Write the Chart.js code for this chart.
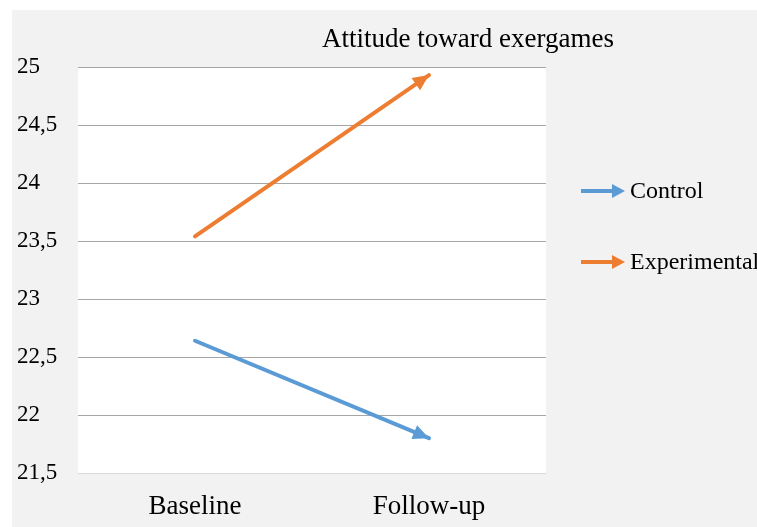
<!DOCTYPE html>
<html>
<head>
<meta charset="utf-8">
<script src="https://cdn.jsdelivr.net/npm/chart.js@4/dist/chart.umd.min.js"></script>
<style>
  html, body { margin: 0; padding: 0; background: #fff; }
  #wrap { width: 757px; height: 527px; }
</style>
</head>
<body>
<div id="wrap"><canvas id="myChart" width="757" height="527"></canvas></div>
<script>
const categories = ['Baseline', 'Follow-up'];
const seriesNames = ['Control', 'Experimental'];
const controlValues = [22.64, 21.80];
const experimentalValues = [23.54, 24.93];
const yMin = 21.5, yMax = 25, yStep = 0.5;
const titleText = 'Attitude toward exergames';

const BLUE = '#5b9bd5', ORANGE = '#ed7d31';
const FONT = "'Liberation Serif', 'Times New Roman', serif";

function arrowHead(ctx, x1, y1, x2, y2, color, len, half) {
  const a = Math.atan2(y2 - y1, x2 - x1);
  ctx.save();
  ctx.fillStyle = color;
  ctx.beginPath();
  ctx.moveTo(x2, y2);
  ctx.lineTo(x2 - len * Math.cos(a) + half * Math.sin(a), y2 - len * Math.sin(a) - half * Math.cos(a));
  ctx.lineTo(x2 - len * Math.cos(a) - half * Math.sin(a), y2 - len * Math.sin(a) + half * Math.cos(a));
  ctx.closePath();
  ctx.fill();
  ctx.restore();
}

const bgPlugin = {
  id: 'bg',
  beforeDraw(chart) {
    const c = chart.ctx, a = chart.chartArea;
    c.save();
    c.fillStyle = '#ffffff';
    c.fillRect(0, 0, chart.width, chart.height);
    c.fillStyle = '#f2f2f2';
    c.fillRect(12, 10, chart.width - 12, chart.height - 10);
    c.fillStyle = '#ffffff';
    c.fillRect(a.left, a.top, a.right - a.left, a.bottom - a.top);
    c.restore();
  }
};

const arrowPlugin = {
  id: 'arrows',
  afterDatasetsDraw(chart) {
    const c = chart.ctx;
    chart.data.datasets.forEach((ds, i) => {
      const pts = chart.getDatasetMeta(i).data;
      const p = pts[pts.length - 2], q = pts[pts.length - 1];
      arrowHead(c, p.x, p.y, q.x, q.y, ds.borderColor, 16, 7.5);
    });
  }
};

// title and legend drawn by hand to match the placement
const textPlugin = {
  id: 'texts',
  afterDraw(chart) {
    const c = chart.ctx;
    c.save();
    c.fillStyle = '#000';
    c.font = '27px ' + FONT;
    c.textAlign = 'center';
    c.textBaseline = 'middle';
    c.fillText(titleText, 468, 40);
    c.font = '24px ' + FONT;
    c.textAlign = 'left';
    const ys = [191, 262];
    chart.data.datasets.forEach((ds, i) => {
      const y = ys[i];
      c.strokeStyle = ds.borderColor;
      c.lineWidth = 4;
      c.beginPath();
      c.moveTo(581, y);
      c.lineTo(613, y);
      c.stroke();
      arrowHead(c, 581, y, 625, y, ds.borderColor, 13, 7);
      c.fillStyle = '#000';
      c.fillText(ds.label, 630, y + 1);
    });
    c.restore();
  }
};

new Chart(document.getElementById('myChart'), {
  type: 'line',
  data: {
    labels: categories,
    datasets: [
      { label: seriesNames[0], data: controlValues, borderColor: BLUE, backgroundColor: BLUE, borderWidth: 4, pointRadius: 0, borderCapStyle: 'round' },
      { label: seriesNames[1], data: experimentalValues, borderColor: ORANGE, backgroundColor: ORANGE, borderWidth: 4, pointRadius: 0, borderCapStyle: 'round' }
    ]
  },
  options: {
    responsive: false,
    animation: false,
    layout: { padding: { left: 17, right: 211, top: 67, bottom: 0 } },
    plugins: { legend: { display: false }, title: { display: false }, tooltip: { enabled: false } },
    scales: {
      x: {
        offset: true,
        grid: { display: false },
        border: { display: false },
        ticks: { color: '#000', padding: 10, font: { family: FONT, size: 27 } },
        afterFit(s) { s.height = 54; }
      },
      y: {
        min: yMin, max: yMax,
        border: { display: false },
        grid: {
          drawTicks: false,
          color: ctx => ctx.tick && ctx.tick.value === yMin ? '#d9d9d9' : '#a6a6a6'
        },
        ticks: {
          stepSize: yStep,
          crossAlign: 'far',
          color: '#000',
          font: { family: FONT, size: 23 },
          callback: v => String(v).replace('.', ',')
        },
        afterFit(s) { s.width = 61; }
      }
    }
  },
  plugins: [bgPlugin, arrowPlugin, textPlugin]
});
</script>
</body>
</html>
